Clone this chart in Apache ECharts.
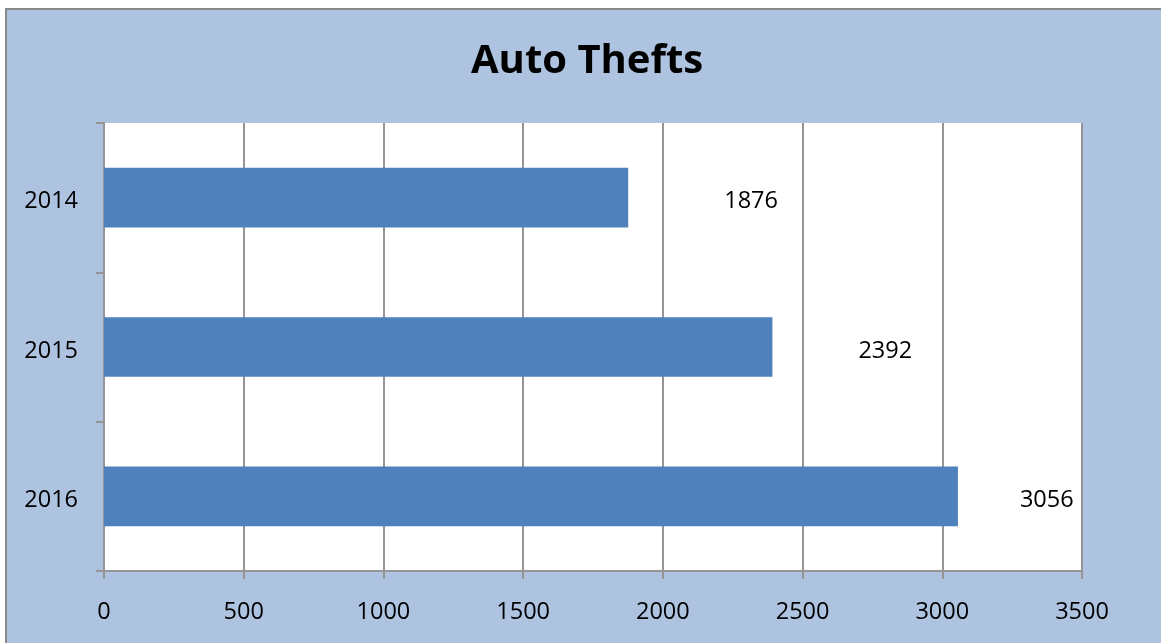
<!DOCTYPE html>
<html>
<head>
<meta charset="utf-8">
<script src="https://cdn.jsdelivr.net/npm/echarts@6/dist/echarts.min.js"></script>
<style>
html,body{margin:0;padding:0;background:#fff;}
#c{width:1161px;height:643px;}
</style>
</head>
<body>
<div id="c"></div>
<script>
const title = 'Auto Thefts';
const categories = ['2014', '2015', '2016'];
const values = [1876, 2392, 3056];
const xTicks = { min: 0, max: 3500, interval: 500 };

// style only: gap between bar end and its value label (px)
const labelGaps = [96, 86, 62];

const chart = echarts.init(document.getElementById('c'), null, { renderer: 'canvas' });
const FONT = '"Open Sans", "Liberation Sans", sans-serif';
const GRID_GRAY = '#959595';
const FS = 23.5;

chart.setOption({
  backgroundColor: '#ffffff',
  animation: false,
  graphic: [{
    type: 'rect', z: -10, silent: true,
    shape: { x: 6, y: 9, width: 1162, height: 640 },
    style: { fill: '#ADC3E0', stroke: '#8a8a8a', lineWidth: 2 }
  }],
  title: {
    text: title, left: 466, top: 37,
    textStyle: { fontFamily: FONT, fontWeight: 'bold', fontSize: 40, color: '#000' }
  },
  grid: { left: 104, top: 123, right: 79, bottom: 72, containLabel: false,
          show: true, backgroundColor: '#ffffff', borderWidth: 0 },
  xAxis: {
    type: 'value', min: xTicks.min, max: xTicks.max, interval: xTicks.interval,
    axisLine: { show: true, lineStyle: { color: GRID_GRAY, width: 2 } },
    axisTick: { show: true, length: 8, lineStyle: { color: GRID_GRAY, width: 2 } },
    splitLine: { show: true, lineStyle: { color: GRID_GRAY, width: 2 } },
    axisLabel: { margin: 29, fontFamily: FONT, fontSize: FS, color: '#000',
                 formatter: v => String(v) }
  },
  yAxis: {
    type: 'category', data: categories, inverse: true,
    axisLine: { show: true, lineStyle: { color: GRID_GRAY, width: 2 } },
    axisTick: { show: true, length: 8, alignWithLabel: false, lineStyle: { color: GRID_GRAY, width: 2 } },
    splitLine: { show: false },
    axisLabel: { margin: 26, fontFamily: FONT, fontSize: FS, color: '#000',
                 verticalAlign: 'top', lineHeight: 8 }
  },
  series: [{
    type: 'bar',
    barWidth: '40%',
    itemStyle: { color: '#4F81BD' },
    data: values.map((v, i) => ({
      value: v,
      label: { show: true, position: 'right', distance: labelGaps[i], offset: [0, 4],
               fontFamily: FONT, fontSize: FS, color: '#000' }
    }))
  }]
});
</script>
</body>
</html>
